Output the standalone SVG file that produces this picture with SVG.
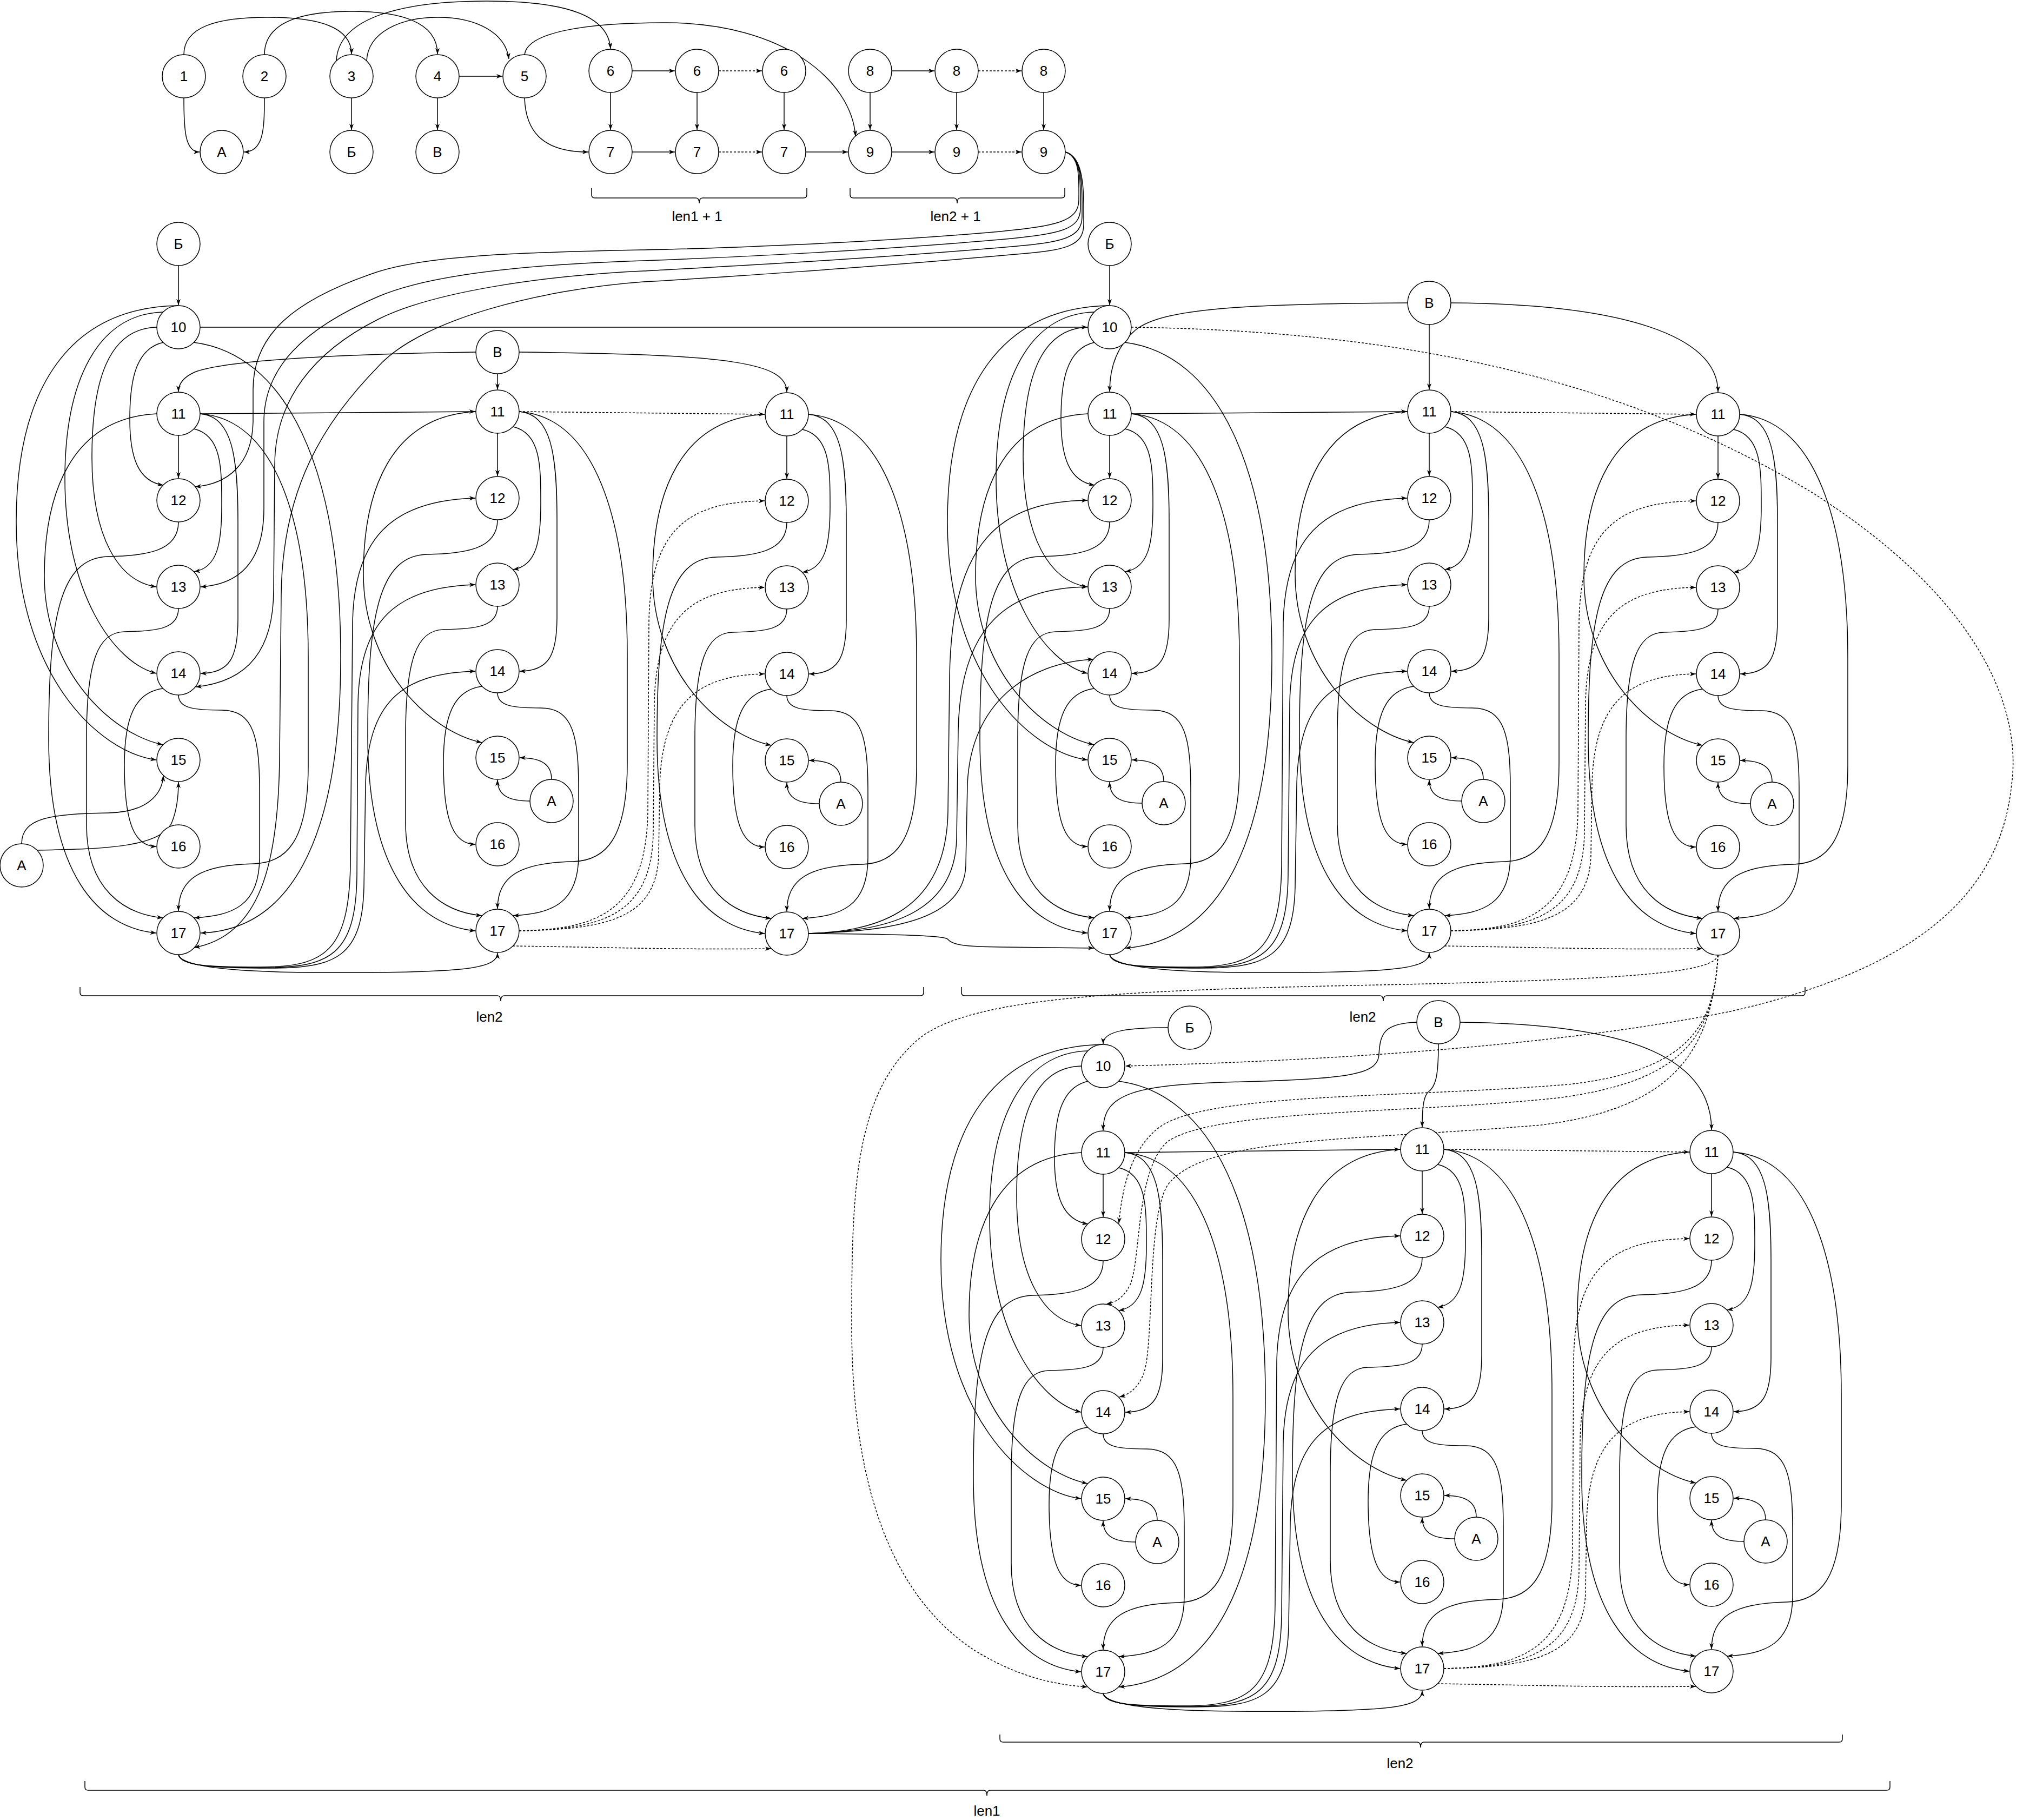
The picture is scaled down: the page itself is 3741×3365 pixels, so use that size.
<svg xmlns="http://www.w3.org/2000/svg" width="3741" height="3365" viewBox="0 0 3741 3365">
<defs>
<style>
.e{fill:none;stroke:#000;stroke-width:1.5;marker-end:url(#ah)}
.d{stroke-dasharray:4 3}
.br{fill:none;stroke:#000;stroke-width:1.5}
.n circle{fill:#fff;stroke:#000;stroke-width:1.5}
text{font-family:"Liberation Sans",Arial,sans-serif;font-size:26px;text-anchor:middle;dominant-baseline:central;fill:#000}
</style>
<marker id="ah" markerWidth="12" markerHeight="10" refX="11" refY="5" orient="auto" markerUnits="userSpaceOnUse"><path d="M0,1 L11,5 L0,9 L3,5 z" fill="#000"/></marker>
</defs>
<rect width="3741" height="3365" fill="#fff"/>
<g id="connectors">
<!-- top row -->
<path class="e" d="M340,181 C340,240 342,281 369,281"/>
<path class="e" d="M489,181 C489,240 487,281 451,281"/>
<path class="e" d="M340,101 C340,50 400,32 495,32 C590,32 650,50 650,100"/>
<path class="e" d="M489,101 C489,40 560,21 650,21 C740,21 809,40 809,100"/>
<path class="e" d="M678,113 C680,60 740,32 810,32 C880,32 935,60 941,109"/>
<path class="e" d="M622,113 C625,30 750,2 900,2 C1050,2 1125,30 1129,90"/>
<path class="e" d="M970,101 C975,60 1080,42 1230,42 C1450,42 1575,150 1582,252"/>
<path class="e" d="M970,181 C972,240 1000,281 1088,281"/>
<path class="e" d="M650,181 L650,240"/>
<path class="e" d="M809,181 L809,240"/>
<path class="e" d="M849,141 L929,141"/>
<path class="e" d="M1169,131 L1248,131"/>
<path class="e d" d="M1329,131 L1409,131"/>
<path class="e" d="M1129,171 L1129,240"/>
<path class="e" d="M1289,171 L1289,240"/>
<path class="e" d="M1450,171 L1450,240"/>
<path class="e" d="M1169,281 L1248,281"/>
<path class="e d" d="M1329,281 L1409,281"/>
<path class="e" d="M1490,281 L1568,281"/>
<path class="e" d="M1649,131 L1728,131"/>
<path class="e d" d="M1809,131 L1889,131"/>
<path class="e" d="M1609,171 L1609,240"/>
<path class="e" d="M1769,171 L1769,240"/>
<path class="e" d="M1930,171 L1930,240"/>
<path class="e" d="M1649,281 L1728,281"/>
<path class="e d" d="M1809,281 L1889,281"/>
<!-- 9 -> block1 col1 -->
<path class="e" d="M1970,281 C1998,290 1995,330 1995,370 C1995,410 1950,418 1850,428 C1600,450 1300,460 1190,462 C1000,466 800,470 700,502 C540,555 468,620 468,720 L468,780 C466,860 420,895 361,900"/>
<path class="e" d="M1970,281 C2001,290 1998,340 1998,385 C1998,425 1960,432 1860,442 C1600,465 1300,478 1190,482 C1000,488 800,505 700,548 C560,608 488,680 488,780 L488,940 C488,1030 450,1080 371,1085"/>
<path class="e" d="M1970,281 C2004,290 2001,350 2001,400 C2001,440 1965,448 1870,456 C1600,480 1300,495 1190,501 C1000,510 800,540 700,590 C580,650 508,740 508,860 L506,1090 C506,1200 460,1260 362,1270"/>
<path class="e" d="M1970,281 C2007,290 2004,360 2004,415 C2004,455 1970,463 1880,470 C1600,495 1300,515 1190,521 C1000,535 780,590 700,677 C600,780 522,900 520,1100 L517,1400 C515,1600 480,1730 359,1752"/>
<!-- block 1 -->
<path class="e" d="M330,491 L330,564"/>
<path class="e" d="M370,605 L2011,605"/>
<path class="e" d="M40,1560 C40,1510 100,1505 200,1503 C270,1502 300,1470 302,1434"/>
<path class="e" d="M68,1572 C200,1570 300,1565 318,1520 C328,1495 330,1470 330,1446"/>
<path class="e" d="M880,651 C650,654 420,665 360,688 C338,698 330,710 330,724"/>
<path class="e" d="M920,691 L920,720"/>
<path class="e" d="M960,651 C1350,655 1455,670 1455,725"/>
<path class="e" d="M370,765 L879,761"/>
<path class="e d" d="M960,761 L1414,766"/>
<path class="e" d="M330,1765 C335,1785 380,1788 480,1788 C600,1788 645,1760 648,1600 L652,1150 C655,1000 720,925 879,921"/>
<path class="e" d="M330,1765 C335,1786 390,1789 490,1789 C610,1789 658,1765 660,1620 L662,1300 C665,1150 730,1085 879,1081"/>
<path class="e" d="M330,1765 C336,1787 400,1790 500,1790 C620,1790 670,1770 673,1640 L676,1450 C680,1300 740,1245 879,1241"/>
<path class="e" d="M330,1765 C338,1795 500,1800 700,1798 C860,1796 920,1790 920,1762"/>
<path class="e d" d="M960,1721 C1100,1718 1195,1690 1198,1500 L1200,1150 C1203,980 1270,928 1414,926"/>
<path class="e d" d="M960,1721 C1110,1718 1205,1695 1208,1540 L1210,1300 C1213,1140 1280,1088 1414,1086"/>
<path class="e d" d="M960,1721 C1120,1718 1215,1700 1218,1580 L1220,1450 C1225,1300 1290,1248 1414,1246"/>
<path class="e d" d="M948,1749 C1150,1752 1250,1756 1426,1754"/>
<path class="e" d="M1495,1726 C1600,1722 1750,1700 1753,1500 L1756,1250 C1760,1000 1850,927 2011,925"/>
<path class="e" d="M1495,1726 C1610,1722 1766,1705 1769,1550 L1772,1350 C1776,1150 1870,1087 2011,1085"/>
<path class="e" d="M1495,1726 C1620,1722 1783,1710 1786,1600 L1789,1450 C1795,1300 1900,1225 2022,1219"/>
<path class="e" d="M1495,1726 C1600,1727 1740,1728 1752,1736 C1760,1746 1775,1750 1850,1751 L2023,1753"/>
<!-- block 2 -->
<path class="e" d="M2052,491 L2052,564"/>
<path class="e d" d="M2092,605 C2600,612 3000,700 3350,910 C3650,1100 3740,1300 3720,1450 C3700,1650 3550,1790 3200,1870 C2900,1930 2500,1960 2081,1971"/>
<path class="e" d="M2603,560 C2300,562 2150,570 2100,610 C2065,640 2052,680 2052,724"/>
<path class="e" d="M2643,600 L2643,720"/>
<path class="e" d="M2683,560 C3000,562 3177,620 3177,725"/>
<path class="e" d="M2092,765 L2602,761"/>
<path class="e d" d="M2683,761 L3136,766"/>
<path class="e" d="M2052,1765 C2057,1785 2100,1788 2200,1788 C2320,1788 2368,1760 2370,1600 L2373,1150 C2377,1000 2440,925 2602,921"/>
<path class="e" d="M2052,1765 C2057,1786 2110,1789 2210,1789 C2330,1789 2380,1765 2382,1620 L2385,1300 C2388,1150 2450,1085 2602,1081"/>
<path class="e" d="M2052,1765 C2058,1787 2120,1790 2220,1790 C2340,1790 2392,1770 2395,1640 L2398,1450 C2402,1300 2460,1245 2602,1241"/>
<path class="e" d="M2052,1765 C2060,1795 2220,1800 2420,1798 C2580,1796 2643,1790 2643,1762"/>
<path class="e d" d="M2683,1721 C2820,1718 2915,1690 2918,1500 L2920,1150 C2923,980 2990,928 3136,926"/>
<path class="e d" d="M2683,1721 C2830,1718 2927,1695 2930,1540 L2932,1300 C2935,1140 3000,1088 3136,1086"/>
<path class="e d" d="M2683,1721 C2840,1718 2939,1700 2942,1580 L2944,1450 C2948,1300 3010,1248 3136,1246"/>
<path class="e d" d="M2671,1749 C2870,1752 2970,1756 3148,1754"/>
<path class="e d" d="M3177,1766 C3170,1900 3120,1980 2900,2005 C2600,2030 2250,2020 2150,2080 C2090,2120 2075,2200 2069,2262"/>
<path class="e d" d="M3177,1766 C3168,1920 3110,2000 2880,2030 C2600,2060 2250,2050 2160,2110 C2100,2160 2110,2330 2090,2375 C2078,2400 2062,2408 2046,2411"/>
<path class="e d" d="M3177,1766 C3165,1950 3090,2050 2850,2080 C2500,2110 2230,2100 2160,2190 C2120,2250 2135,2480 2115,2540 C2103,2568 2088,2578 2070,2583"/>
<path class="e d" d="M3177,1766 C3170,1800 3000,1810 2600,1820 C2100,1830 1800,1840 1700,1920 C1580,2020 1575,2200 1575,2450 C1575,2750 1650,2950 1800,3050 C1880,3100 1950,3115 2011,3119"/>
<!-- block 3 -->
<path class="e" d="M2160,1900 C2090,1900 2040,1905 2040,1930"/>
<path class="e" d="M2620,1890 C2560,1892 2552,1910 2550,1950 C2548,1985 2500,1995 2300,2000 C2100,2005 2040,2020 2040,2090"/>
<path class="e" d="M2660,1930 C2660,1990 2655,2010 2640,2020 C2632,2030 2630,2050 2630,2084"/>
<path class="e" d="M2700,1890 C3000,1893 3165,1950 3165,2089"/>
<path class="e" d="M2080,2131 L2589,2125"/>
<path class="e d" d="M2670,2125 L3124,2130"/>
<path class="e" d="M2040,3131 C2045,3151 2090,3154 2190,3154 C2310,3154 2356,3126 2358,2966 L2361,2516 C2365,2366 2430,2289 2589,2285"/>
<path class="e" d="M2040,3131 C2045,3152 2100,3155 2200,3155 C2320,3155 2368,3131 2370,2986 L2373,2666 C2376,2516 2440,2449 2589,2445"/>
<path class="e" d="M2040,3131 C2046,3153 2110,3156 2210,3156 C2330,3156 2380,3136 2383,3006 L2386,2816 C2390,2666 2450,2609 2589,2605"/>
<path class="e" d="M2040,3131 C2048,3161 2210,3166 2410,3164 C2570,3162 2630,3156 2630,3126"/>
<path class="e d" d="M2670,3085 C2810,3082 2905,3054 2908,2864 L2910,2514 C2913,2344 2980,2292 3124,2290"/>
<path class="e d" d="M2670,3085 C2820,3082 2917,3059 2920,2904 L2922,2664 C2925,2504 2990,2452 3124,2450"/>
<path class="e d" d="M2670,3085 C2830,3082 2929,3064 2932,2944 L2934,2814 C2938,2664 3000,2612 3124,2610"/>
<path class="e d" d="M2658,3113 C2860,3116 2960,3120 3136,3118"/>
<!-- col1 extras -->
<g transform="translate(330,765)">
<path class="e" d="M-28,-132 C-80,-120 -90,-60 -90,10 C-90,80 -75,125 -28,132"/>
<path class="e" d="M-40,-160 C-130,-158 -160,-60 -160,80 C-160,230 -110,310 -41,320"/>
<path class="e" d="M-28,-188 C-150,-185 -210,-60 -210,120 C-210,330 -120,460 -41,480"/>
<path class="e" d="M0,-200 C-200,-197 -300,-50 -300,200 C-300,480 -150,625 -41,640"/>
<path class="e" d="M28,-132 C200,-110 300,100 300,450 C300,800 200,955 41,960"/>
</g>
<g transform="translate(2052,765)">
<path class="e" d="M-28,-132 C-80,-120 -90,-60 -90,10 C-90,80 -75,125 -28,132"/>
<path class="e" d="M-40,-160 C-130,-158 -160,-60 -160,80 C-160,230 -110,310 -41,320"/>
<path class="e" d="M-28,-188 C-150,-185 -210,-60 -210,120 C-210,330 -120,460 -41,480"/>
<path class="e" d="M0,-200 C-200,-197 -300,-50 -300,200 C-300,480 -150,625 -41,640"/>
<path class="e" d="M28,-132 C200,-110 300,100 300,450 C300,800 200,975 29,988"/>
</g>
<g transform="translate(2040,2131)">
<path class="e" d="M-28,-132 C-80,-120 -90,-60 -90,10 C-90,80 -75,125 -28,132"/>
<path class="e" d="M-40,-160 C-130,-158 -160,-60 -160,80 C-160,230 -110,310 -41,320"/>
<path class="e" d="M-28,-188 C-150,-185 -210,-60 -210,120 C-210,330 -120,460 -41,480"/>
<path class="e" d="M0,-200 C-200,-197 -300,-50 -300,200 C-300,480 -150,625 -41,640"/>
<path class="e" d="M28,-132 C200,-110 300,100 300,450 C300,800 200,975 29,988"/>
</g>
<!-- column templates -->
<g transform="translate(330,765)">
<path class="e" d="M0,40 L0,119"/>
<path class="e" d="M29,28 C80,40 80,100 80,170 C80,240 72,285 29,292"/>
<path class="e" d="M40,0 C100,5 110,80 110,200 L110,380 C110,450 95,480 41,480"/>
<path class="e" d="M40,0 C180,10 240,200 240,450 L240,650 C240,790 200,830 140,832 C40,834 0,860 0,919"/>
<path class="e" d="M-40,0 C-200,8 -248,150 -248,300 C-248,470 -130,590 -29,612"/>
<path class="e" d="M0,200 C0,255 -60,262 -130,264 C-220,266 -240,380 -240,600 C-240,850 -150,950 -41,960"/>
<path class="e" d="M0,360 C0,398 -40,402 -100,403 C-150,404 -170,460 -170,600 L-170,760 C-170,880 -100,925 -29,932"/>
<path class="e" d="M-29,508 C-80,515 -100,560 -100,650 C-100,760 -80,800 -41,800"/>
<path class="e" d="M0,520 C0,545 30,548 80,548 C140,548 150,600 150,700 L150,820 C150,910 100,928 29,932"/>
</g>
<g transform="translate(920,761)">
<path class="e" d="M0,40 L0,119"/>
<path class="e" d="M29,28 C80,40 80,100 80,170 C80,240 72,285 29,292"/>
<path class="e" d="M40,0 C100,5 110,80 110,200 L110,380 C110,450 95,480 41,480"/>
<path class="e" d="M40,0 C180,10 240,200 240,450 L240,650 C240,790 200,830 140,832 C40,834 0,860 0,919"/>
<path class="e" d="M-40,0 C-200,8 -248,150 -248,300 C-248,470 -130,590 -29,612"/>
<path class="e" d="M0,200 C0,255 -60,262 -130,264 C-220,266 -240,380 -240,600 C-240,850 -150,950 -41,960"/>
<path class="e" d="M0,360 C0,398 -40,402 -100,403 C-150,404 -170,460 -170,600 L-170,760 C-170,880 -100,925 -29,932"/>
<path class="e" d="M-29,508 C-80,515 -100,560 -100,650 C-100,760 -80,800 -41,800"/>
<path class="e" d="M0,520 C0,545 30,548 80,548 C140,548 150,600 150,700 L150,820 C150,910 100,928 29,932"/>
<path class="e" d="M100,680 C100,655 85,640 41,640"/>
<path class="e" d="M60,720 C25,720 0,712 0,681"/>
</g>
<g transform="translate(1455,766)">
<path class="e" d="M0,40 L0,119"/>
<path class="e" d="M29,28 C80,40 80,100 80,170 C80,240 72,285 29,292"/>
<path class="e" d="M40,0 C100,5 110,80 110,200 L110,380 C110,450 95,480 41,480"/>
<path class="e" d="M40,0 C180,10 240,200 240,450 L240,650 C240,790 200,830 140,832 C40,834 0,860 0,919"/>
<path class="e" d="M-40,0 C-200,8 -248,150 -248,300 C-248,470 -130,590 -29,612"/>
<path class="e" d="M0,200 C0,255 -60,262 -130,264 C-220,266 -240,380 -240,600 C-240,850 -150,950 -41,960"/>
<path class="e" d="M0,360 C0,398 -40,402 -100,403 C-150,404 -170,460 -170,600 L-170,760 C-170,880 -100,925 -29,932"/>
<path class="e" d="M-29,508 C-80,515 -100,560 -100,650 C-100,760 -80,800 -41,800"/>
<path class="e" d="M0,520 C0,545 30,548 80,548 C140,548 150,600 150,700 L150,820 C150,910 100,928 29,932"/>
<path class="e" d="M100,680 C100,655 85,640 41,640"/>
<path class="e" d="M60,720 C25,720 0,712 0,681"/>
</g>
<g transform="translate(2052,765)">
<path class="e" d="M0,40 L0,119"/>
<path class="e" d="M29,28 C80,40 80,100 80,170 C80,240 72,285 29,292"/>
<path class="e" d="M40,0 C100,5 110,80 110,200 L110,380 C110,450 95,480 41,480"/>
<path class="e" d="M40,0 C180,10 240,200 240,450 L240,650 C240,790 200,830 140,832 C40,834 0,860 0,919"/>
<path class="e" d="M-40,0 C-200,8 -248,150 -248,300 C-248,470 -130,590 -29,612"/>
<path class="e" d="M0,200 C0,255 -60,262 -130,264 C-220,266 -240,380 -240,600 C-240,850 -150,950 -41,960"/>
<path class="e" d="M0,360 C0,398 -40,402 -100,403 C-150,404 -170,460 -170,600 L-170,760 C-170,880 -100,925 -29,932"/>
<path class="e" d="M-29,508 C-80,515 -100,560 -100,650 C-100,760 -80,800 -41,800"/>
<path class="e" d="M0,520 C0,545 30,548 80,548 C140,548 150,600 150,700 L150,820 C150,910 100,928 29,932"/>
<path class="e" d="M100,680 C100,655 85,640 41,640"/>
<path class="e" d="M60,720 C25,720 0,712 0,681"/>
</g>
<g transform="translate(2643,761)">
<path class="e" d="M0,40 L0,119"/>
<path class="e" d="M29,28 C80,40 80,100 80,170 C80,240 72,285 29,292"/>
<path class="e" d="M40,0 C100,5 110,80 110,200 L110,380 C110,450 95,480 41,480"/>
<path class="e" d="M40,0 C180,10 240,200 240,450 L240,650 C240,790 200,830 140,832 C40,834 0,860 0,919"/>
<path class="e" d="M-40,0 C-200,8 -248,150 -248,300 C-248,470 -130,590 -29,612"/>
<path class="e" d="M0,200 C0,255 -60,262 -130,264 C-220,266 -240,380 -240,600 C-240,850 -150,950 -41,960"/>
<path class="e" d="M0,360 C0,398 -40,402 -100,403 C-150,404 -170,460 -170,600 L-170,760 C-170,880 -100,925 -29,932"/>
<path class="e" d="M-29,508 C-80,515 -100,560 -100,650 C-100,760 -80,800 -41,800"/>
<path class="e" d="M0,520 C0,545 30,548 80,548 C140,548 150,600 150,700 L150,820 C150,910 100,928 29,932"/>
<path class="e" d="M100,680 C100,655 85,640 41,640"/>
<path class="e" d="M60,720 C25,720 0,712 0,681"/>
</g>
<g transform="translate(3177,766)">
<path class="e" d="M0,40 L0,119"/>
<path class="e" d="M29,28 C80,40 80,100 80,170 C80,240 72,285 29,292"/>
<path class="e" d="M40,0 C100,5 110,80 110,200 L110,380 C110,450 95,480 41,480"/>
<path class="e" d="M40,0 C180,10 240,200 240,450 L240,650 C240,790 200,830 140,832 C40,834 0,860 0,919"/>
<path class="e" d="M-40,0 C-200,8 -248,150 -248,300 C-248,470 -130,590 -29,612"/>
<path class="e" d="M0,200 C0,255 -60,262 -130,264 C-220,266 -240,380 -240,600 C-240,850 -150,950 -41,960"/>
<path class="e" d="M0,360 C0,398 -40,402 -100,403 C-150,404 -170,460 -170,600 L-170,760 C-170,880 -100,925 -29,932"/>
<path class="e" d="M-29,508 C-80,515 -100,560 -100,650 C-100,760 -80,800 -41,800"/>
<path class="e" d="M0,520 C0,545 30,548 80,548 C140,548 150,600 150,700 L150,820 C150,910 100,928 29,932"/>
<path class="e" d="M100,680 C100,655 85,640 41,640"/>
<path class="e" d="M60,720 C25,720 0,712 0,681"/>
</g>
<g transform="translate(2040,2131)">
<path class="e" d="M0,40 L0,119"/>
<path class="e" d="M29,28 C80,40 80,100 80,170 C80,240 72,285 29,292"/>
<path class="e" d="M40,0 C100,5 110,80 110,200 L110,380 C110,450 95,480 41,480"/>
<path class="e" d="M40,0 C180,10 240,200 240,450 L240,650 C240,790 200,830 140,832 C40,834 0,860 0,919"/>
<path class="e" d="M-40,0 C-200,8 -248,150 -248,300 C-248,470 -130,590 -29,612"/>
<path class="e" d="M0,200 C0,255 -60,262 -130,264 C-220,266 -240,380 -240,600 C-240,850 -150,950 -41,960"/>
<path class="e" d="M0,360 C0,398 -40,402 -100,403 C-150,404 -170,460 -170,600 L-170,760 C-170,880 -100,925 -29,932"/>
<path class="e" d="M-29,508 C-80,515 -100,560 -100,650 C-100,760 -80,800 -41,800"/>
<path class="e" d="M0,520 C0,545 30,548 80,548 C140,548 150,600 150,700 L150,820 C150,910 100,928 29,932"/>
<path class="e" d="M100,680 C100,655 85,640 41,640"/>
<path class="e" d="M60,720 C25,720 0,712 0,681"/>
</g>
<g transform="translate(2630,2125)">
<path class="e" d="M0,40 L0,119"/>
<path class="e" d="M29,28 C80,40 80,100 80,170 C80,240 72,285 29,292"/>
<path class="e" d="M40,0 C100,5 110,80 110,200 L110,380 C110,450 95,480 41,480"/>
<path class="e" d="M40,0 C180,10 240,200 240,450 L240,650 C240,790 200,830 140,832 C40,834 0,860 0,919"/>
<path class="e" d="M-40,0 C-200,8 -248,150 -248,300 C-248,470 -130,590 -29,612"/>
<path class="e" d="M0,200 C0,255 -60,262 -130,264 C-220,266 -240,380 -240,600 C-240,850 -150,950 -41,960"/>
<path class="e" d="M0,360 C0,398 -40,402 -100,403 C-150,404 -170,460 -170,600 L-170,760 C-170,880 -100,925 -29,932"/>
<path class="e" d="M-29,508 C-80,515 -100,560 -100,650 C-100,760 -80,800 -41,800"/>
<path class="e" d="M0,520 C0,545 30,548 80,548 C140,548 150,600 150,700 L150,820 C150,910 100,928 29,932"/>
<path class="e" d="M100,680 C100,655 85,640 41,640"/>
<path class="e" d="M60,720 C25,720 0,712 0,681"/>
</g>
<g transform="translate(3165,2130)">
<path class="e" d="M0,40 L0,119"/>
<path class="e" d="M29,28 C80,40 80,100 80,170 C80,240 72,285 29,292"/>
<path class="e" d="M40,0 C100,5 110,80 110,200 L110,380 C110,450 95,480 41,480"/>
<path class="e" d="M40,0 C180,10 240,200 240,450 L240,650 C240,790 200,830 140,832 C40,834 0,860 0,919"/>
<path class="e" d="M-40,0 C-200,8 -248,150 -248,300 C-248,470 -130,590 -29,612"/>
<path class="e" d="M0,200 C0,255 -60,262 -130,264 C-220,266 -240,380 -240,600 C-240,850 -150,950 -41,960"/>
<path class="e" d="M0,360 C0,398 -40,402 -100,403 C-150,404 -170,460 -170,600 L-170,760 C-170,880 -100,925 -29,932"/>
<path class="e" d="M-29,508 C-80,515 -100,560 -100,650 C-100,760 -80,800 -41,800"/>
<path class="e" d="M0,520 C0,545 30,548 80,548 C140,548 150,600 150,700 L150,820 C150,910 100,928 29,932"/>
<path class="e" d="M100,680 C100,655 85,640 41,640"/>
<path class="e" d="M60,720 C25,720 0,712 0,681"/>
</g>
</g>
<g id="braces">
<path class="br" d="M1094,348 L1094,360 Q1094,366 1100,366 L1287,366 Q1293,366 1293,376 Q1293,366 1299,366 L1486,366 Q1492,366 1492,360 L1492,348"/>
<path class="br" d="M1572,348 L1572,360 Q1572,366 1578,366 L1764,366 Q1770,366 1770,376 Q1770,366 1776,366 L1963,366 Q1969,366 1969,360 L1969,348"/>
<path class="br" d="M148,1825 L148,1835 Q148,1841 154,1841 L920,1841 Q926,1841 926,1851 Q926,1841 932,1841 L1702,1841 Q1708,1841 1708,1835 L1708,1825"/>
<path class="br" d="M1778,1825 L1778,1835 Q1778,1841 1784,1841 L2552,1841 Q2558,1841 2558,1851 Q2558,1841 2564,1841 L3332,1841 Q3338,1841 3338,1835 L3338,1825"/>
<path class="br" d="M1849,3207 L1849,3215 Q1849,3221 1855,3221 L2621,3221 Q2627,3221 2627,3231 Q2627,3221 2633,3221 L3401,3221 Q3407,3221 3407,3215 L3407,3207"/>
<path class="br" d="M157,3293 L157,3304 Q157,3310 163,3310 L1819,3310 Q1825,3310 1825,3320 Q1825,3310 1831,3310 L3489,3310 Q3495,3310 3495,3304 L3495,3293"/>
<text x="1289" y="400">len1 + 1</text>
<text x="1767" y="400">len2 + 1</text>
<text x="905" y="1880">len2</text>
<text x="2520" y="1880">len2</text>
<text x="2589" y="3260">len2</text>
<text x="1825" y="3348">len1</text>
</g>
<g id="nodes">
<g id="t1" class="n" transform="translate(340,141)"><circle r="40"/><text>1</text></g>
<g id="t2" class="n" transform="translate(489,141)"><circle r="40"/><text>2</text></g>
<g id="t3" class="n" transform="translate(650,141)"><circle r="40"/><text>3</text></g>
<g id="t4" class="n" transform="translate(809,141)"><circle r="40"/><text>4</text></g>
<g id="t5" class="n" transform="translate(970,141)"><circle r="40"/><text>5</text></g>
<g id="tA" class="n" transform="translate(410,281)"><circle r="40"/><text>А</text></g>
<g id="tB" class="n" transform="translate(650,281)"><circle r="40"/><text>Б</text></g>
<g id="tV" class="n" transform="translate(809,281)"><circle r="40"/><text>В</text></g>
<g id="t6a" class="n" transform="translate(1129,131)"><circle r="40"/><text>6</text></g>
<g id="t6b" class="n" transform="translate(1289,131)"><circle r="40"/><text>6</text></g>
<g id="t6c" class="n" transform="translate(1450,131)"><circle r="40"/><text>6</text></g>
<g id="t7a" class="n" transform="translate(1129,281)"><circle r="40"/><text>7</text></g>
<g id="t7b" class="n" transform="translate(1289,281)"><circle r="40"/><text>7</text></g>
<g id="t7c" class="n" transform="translate(1450,281)"><circle r="40"/><text>7</text></g>
<g id="t8a" class="n" transform="translate(1609,131)"><circle r="40"/><text>8</text></g>
<g id="t8b" class="n" transform="translate(1769,131)"><circle r="40"/><text>8</text></g>
<g id="t8c" class="n" transform="translate(1930,131)"><circle r="40"/><text>8</text></g>
<g id="t9a" class="n" transform="translate(1609,281)"><circle r="40"/><text>9</text></g>
<g id="t9b" class="n" transform="translate(1769,281)"><circle r="40"/><text>9</text></g>
<g id="t9c" class="n" transform="translate(1930,281)"><circle r="40"/><text>9</text></g>
<!-- block 1 -->
<g id="b1-B" class="n" transform="translate(330,451)"><circle r="40"/><text>Б</text></g>
<g id="b1-10" class="n" transform="translate(330,605)"><circle r="40"/><text>10</text></g>
<g id="b1c1-11" class="n" transform="translate(330,765)"><circle r="40"/><text>11</text></g>
<g id="b1c1-12" class="n" transform="translate(330,925)"><circle r="40"/><text>12</text></g>
<g id="b1c1-13" class="n" transform="translate(330,1085)"><circle r="40"/><text>13</text></g>
<g id="b1c1-14" class="n" transform="translate(330,1245)"><circle r="40"/><text>14</text></g>
<g id="b1c1-15" class="n" transform="translate(330,1405)"><circle r="40"/><text>15</text></g>
<g id="b1c1-16" class="n" transform="translate(330,1565)"><circle r="40"/><text>16</text></g>
<g id="b1c1-17" class="n" transform="translate(330,1725)"><circle r="40"/><text>17</text></g>
<g id="b1c1-A" class="n" transform="translate(40,1600)"><circle r="40"/><text>А</text></g>
<g id="b1-V" class="n" transform="translate(920,651)"><circle r="40"/><text>В</text></g>
<g id="b1c2-11" class="n" transform="translate(920,761)"><circle r="40"/><text>11</text></g>
<g id="b1c2-12" class="n" transform="translate(920,921)"><circle r="40"/><text>12</text></g>
<g id="b1c2-13" class="n" transform="translate(920,1081)"><circle r="40"/><text>13</text></g>
<g id="b1c2-14" class="n" transform="translate(920,1241)"><circle r="40"/><text>14</text></g>
<g id="b1c2-15" class="n" transform="translate(920,1401)"><circle r="40"/><text>15</text></g>
<g id="b1c2-16" class="n" transform="translate(920,1561)"><circle r="40"/><text>16</text></g>
<g id="b1c2-17" class="n" transform="translate(920,1721)"><circle r="40"/><text>17</text></g>
<g id="b1c2-A" class="n" transform="translate(1020,1481)"><circle r="40"/><text>А</text></g>
<g id="b1c3-11" class="n" transform="translate(1455,766)"><circle r="40"/><text>11</text></g>
<g id="b1c3-12" class="n" transform="translate(1455,926)"><circle r="40"/><text>12</text></g>
<g id="b1c3-13" class="n" transform="translate(1455,1086)"><circle r="40"/><text>13</text></g>
<g id="b1c3-14" class="n" transform="translate(1455,1246)"><circle r="40"/><text>14</text></g>
<g id="b1c3-15" class="n" transform="translate(1455,1406)"><circle r="40"/><text>15</text></g>
<g id="b1c3-16" class="n" transform="translate(1455,1566)"><circle r="40"/><text>16</text></g>
<g id="b1c3-17" class="n" transform="translate(1455,1726)"><circle r="40"/><text>17</text></g>
<g id="b1c3-A" class="n" transform="translate(1555,1486)"><circle r="40"/><text>А</text></g>
<!-- block 2 -->
<g id="b2-B" class="n" transform="translate(2052,451)"><circle r="40"/><text>Б</text></g>
<g id="b2-10" class="n" transform="translate(2052,605)"><circle r="40"/><text>10</text></g>
<g id="b2c1-11" class="n" transform="translate(2052,765)"><circle r="40"/><text>11</text></g>
<g id="b2c1-12" class="n" transform="translate(2052,925)"><circle r="40"/><text>12</text></g>
<g id="b2c1-13" class="n" transform="translate(2052,1085)"><circle r="40"/><text>13</text></g>
<g id="b2c1-14" class="n" transform="translate(2052,1245)"><circle r="40"/><text>14</text></g>
<g id="b2c1-15" class="n" transform="translate(2052,1405)"><circle r="40"/><text>15</text></g>
<g id="b2c1-16" class="n" transform="translate(2052,1565)"><circle r="40"/><text>16</text></g>
<g id="b2c1-17" class="n" transform="translate(2052,1725)"><circle r="40"/><text>17</text></g>
<g id="b2c1-A" class="n" transform="translate(2152,1485)"><circle r="40"/><text>А</text></g>
<g id="b2-V" class="n" transform="translate(2643,560)"><circle r="40"/><text>В</text></g>
<g id="b2c2-11" class="n" transform="translate(2643,761)"><circle r="40"/><text>11</text></g>
<g id="b2c2-12" class="n" transform="translate(2643,921)"><circle r="40"/><text>12</text></g>
<g id="b2c2-13" class="n" transform="translate(2643,1081)"><circle r="40"/><text>13</text></g>
<g id="b2c2-14" class="n" transform="translate(2643,1241)"><circle r="40"/><text>14</text></g>
<g id="b2c2-15" class="n" transform="translate(2643,1401)"><circle r="40"/><text>15</text></g>
<g id="b2c2-16" class="n" transform="translate(2643,1561)"><circle r="40"/><text>16</text></g>
<g id="b2c2-17" class="n" transform="translate(2643,1721)"><circle r="40"/><text>17</text></g>
<g id="b2c2-A" class="n" transform="translate(2743,1481)"><circle r="40"/><text>А</text></g>
<g id="b2c3-11" class="n" transform="translate(3177,766)"><circle r="40"/><text>11</text></g>
<g id="b2c3-12" class="n" transform="translate(3177,926)"><circle r="40"/><text>12</text></g>
<g id="b2c3-13" class="n" transform="translate(3177,1086)"><circle r="40"/><text>13</text></g>
<g id="b2c3-14" class="n" transform="translate(3177,1246)"><circle r="40"/><text>14</text></g>
<g id="b2c3-15" class="n" transform="translate(3177,1406)"><circle r="40"/><text>15</text></g>
<g id="b2c3-16" class="n" transform="translate(3177,1566)"><circle r="40"/><text>16</text></g>
<g id="b2c3-17" class="n" transform="translate(3177,1726)"><circle r="40"/><text>17</text></g>
<g id="b2c3-A" class="n" transform="translate(3277,1486)"><circle r="40"/><text>А</text></g>
<!-- block 3 -->
<g id="b3-B" class="n" transform="translate(2200,1900)"><circle r="40"/><text>Б</text></g>
<g id="b3-10" class="n" transform="translate(2040,1971)"><circle r="40"/><text>10</text></g>
<g id="b3c1-11" class="n" transform="translate(2040,2131)"><circle r="40"/><text>11</text></g>
<g id="b3c1-12" class="n" transform="translate(2040,2291)"><circle r="40"/><text>12</text></g>
<g id="b3c1-13" class="n" transform="translate(2040,2451)"><circle r="40"/><text>13</text></g>
<g id="b3c1-14" class="n" transform="translate(2040,2611)"><circle r="40"/><text>14</text></g>
<g id="b3c1-15" class="n" transform="translate(2040,2771)"><circle r="40"/><text>15</text></g>
<g id="b3c1-16" class="n" transform="translate(2040,2931)"><circle r="40"/><text>16</text></g>
<g id="b3c1-17" class="n" transform="translate(2040,3091)"><circle r="40"/><text>17</text></g>
<g id="b3c1-A" class="n" transform="translate(2140,2851)"><circle r="40"/><text>А</text></g>
<g id="b3-V" class="n" transform="translate(2660,1890)"><circle r="40"/><text>В</text></g>
<g id="b3c2-11" class="n" transform="translate(2630,2125)"><circle r="40"/><text>11</text></g>
<g id="b3c2-12" class="n" transform="translate(2630,2285)"><circle r="40"/><text>12</text></g>
<g id="b3c2-13" class="n" transform="translate(2630,2445)"><circle r="40"/><text>13</text></g>
<g id="b3c2-14" class="n" transform="translate(2630,2605)"><circle r="40"/><text>14</text></g>
<g id="b3c2-15" class="n" transform="translate(2630,2765)"><circle r="40"/><text>15</text></g>
<g id="b3c2-16" class="n" transform="translate(2630,2925)"><circle r="40"/><text>16</text></g>
<g id="b3c2-17" class="n" transform="translate(2630,3085)"><circle r="40"/><text>17</text></g>
<g id="b3c2-A" class="n" transform="translate(2730,2845)"><circle r="40"/><text>А</text></g>
<g id="b3c3-11" class="n" transform="translate(3165,2130)"><circle r="40"/><text>11</text></g>
<g id="b3c3-12" class="n" transform="translate(3165,2290)"><circle r="40"/><text>12</text></g>
<g id="b3c3-13" class="n" transform="translate(3165,2450)"><circle r="40"/><text>13</text></g>
<g id="b3c3-14" class="n" transform="translate(3165,2610)"><circle r="40"/><text>14</text></g>
<g id="b3c3-15" class="n" transform="translate(3165,2770)"><circle r="40"/><text>15</text></g>
<g id="b3c3-16" class="n" transform="translate(3165,2930)"><circle r="40"/><text>16</text></g>
<g id="b3c3-17" class="n" transform="translate(3165,3090)"><circle r="40"/><text>17</text></g>
<g id="b3c3-A" class="n" transform="translate(3265,2850)"><circle r="40"/><text>А</text></g>
</g>
</svg>
